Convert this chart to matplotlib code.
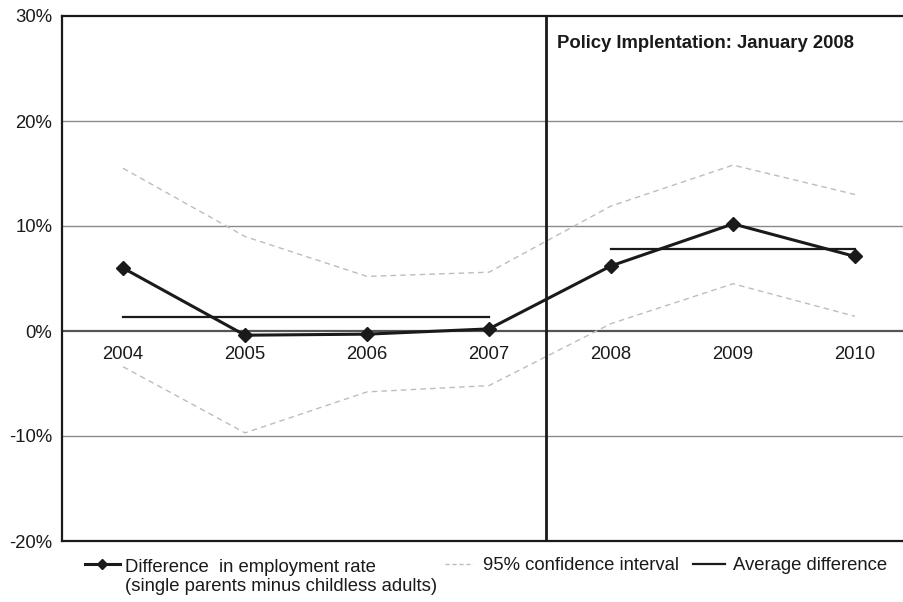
import matplotlib.pyplot as plt

plt.rcParams['font.family'] = ['Liberation Sans', 'DejaVu Sans']

years = ["2004", "2005", "2006", "2007", "2008", "2009", "2010"]
diff = [6.0, -0.4, -0.3, 0.2, 6.2, 10.2, 7.1]
ci_upper = [15.5, 9.0, 5.2, 5.6, 11.9, 15.8, 13.0]
ci_lower = [-3.4, -9.7, -5.8, -5.2, 0.7, 4.5, 1.4]
policy_at = 3.47  # between 2007 and 2008
pre = [0, 1, 2, 3]
post = [4, 5, 6]

x = list(range(len(years)))
avg_pre = sum(diff[i] for i in pre) / len(pre)
avg_post = sum(diff[i] for i in post) / len(post)

DARK = "#1a1a1a"
CI = "#bdbdbd"
FS = 13.3

fig = plt.figure(figsize=(9.04, 6.02), dpi=100)
# axes run past the right edge of the figure on purpose
ax = fig.add_axes([62 / 904, 61 / 602, 854 / 904, 525 / 602])

for yv in [-10, 10, 20]:
    ax.axhline(yv, color="#8a8a8a", lw=1.0, zorder=1)
ax.axhline(0, color="#555555", lw=1.6, zorder=1)

ax.plot(x, ci_upper, color=CI, lw=1.0, ls=(0, (4, 3)), zorder=2)
ax.plot(x, ci_lower, color=CI, lw=1.0, ls=(0, (4, 3)), zorder=2)

ax.plot([pre[0], pre[-1]], [avg_pre, avg_pre], color=DARK, lw=1.6, zorder=3)
ax.plot([post[0], post[-1]], [avg_post, avg_post], color=DARK, lw=1.6, zorder=3)

ax.plot(x, diff, color=DARK, lw=2.2, marker="D", ms=7, zorder=4)

ax.axvline(policy_at, color=DARK, lw=2.0, zorder=5)
ax.text(policy_at + 0.09, 27.4, "Policy Implentation: January 2008",
        fontsize=FS, fontweight="bold", va="center", ha="left", color=DARK)

for i, yr in enumerate(years):
    ax.text(i, -1.4, yr, ha="center", va="top", fontsize=FS, color=DARK)

ax.set_xlim(-0.5, 6.5)
ax.set_ylim(-20, 30)
ax.set_xticks([])
ax.set_yticks([-20, -10, 0, 10, 20, 30])
ax.set_yticklabels(["-20%", "-10%", "0%", "10%", "20%", "30%"])
ax.tick_params(axis="y", length=0, pad=7, labelsize=FS, labelcolor=DARK)
for s in ax.spines.values():
    s.set_color(DARK)
    s.set_linewidth(1.6)

# legend row under the plot, laid out in pixel units
lg = fig.add_axes([0, 0, 1, 1], facecolor="none")
lg.set_xlim(0, 904)
lg.set_ylim(602, 0)
lg.axis("off")

lg.plot([85, 120], [564, 564], color=DARK, lw=2.2)
lg.plot([102], [564], color=DARK, marker="D", ms=5)
lg.text(125, 577, "Difference  in employment rate\n(single parents minus childless adults)",
        fontsize=FS, va="center", ha="left", color=DARK, linespacing=1.2)
lg.plot([445, 473], [564, 564], color=CI, lw=1.0, ls=(0, (3, 2)))
lg.text(483, 565, "95% confidence interval", fontsize=FS, va="center", ha="left", color=DARK)
lg.plot([693, 725], [564, 564], color=DARK, lw=1.6)
lg.text(733, 565, "Average difference", fontsize=FS, va="center", ha="left", color=DARK)

fig.savefig("out.png", dpi=100)
